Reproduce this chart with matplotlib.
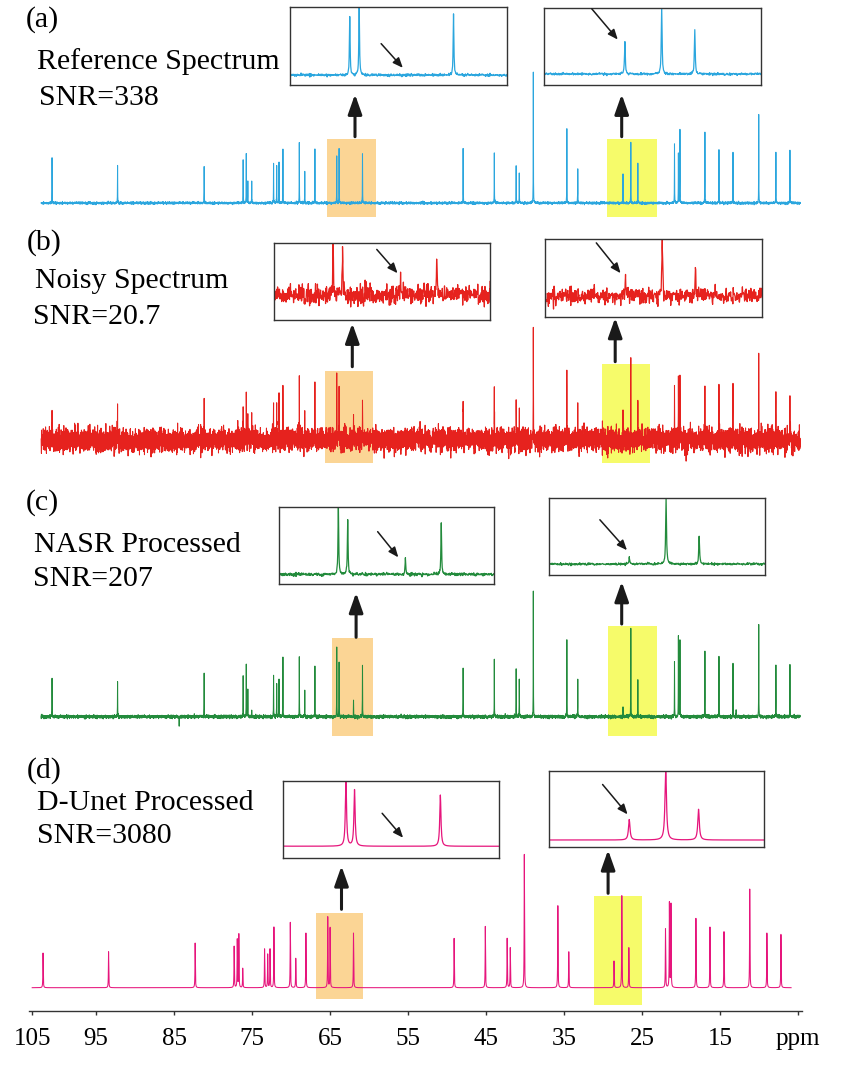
"""Four stacked 13C spectra (reference, noisy, NASR, D-Unet) with zoomed insets."""

import numpy as np
import matplotlib

matplotlib.use("Agg")
import matplotlib.pyplot as plt
from matplotlib.patches import Rectangle, FancyArrowPatch

W, H = 850, 1075
SERIF = ["Liberation Serif", "DejaVu Serif"]

# peak positions (ppm); 63.15 is the artefact the small arrows point at,
# 85.5 is the negative glitch in the NASR trace
PEAK_PPM = [101.8, 93.4, 82.3, 77.3, 76.9, 76.7, 76.2, 73.4, 73.0, 72.7,
            72.2, 70.1, 69.4, 68.1, 65.3, 65.0, 63.15, 62.0, 49.1, 45.1,
            42.3, 41.9, 40.1, 35.8, 34.4, 28.6, 27.6, 26.7, 22.0, 21.5,
            21.3, 18.1, 16.3, 14.5, 14.1, 11.2, 9.0, 7.2, 85.5]

# peak heights, relative to the tallest (40.1 ppm) line of each trace
H_REF = [.35, .29, .28, .33, .38, .16, .16, .30, .28, .31,
         .41, .45, .24, .41, .36, .41, 0, .38, .42, .38,
         .28, .23, 1, .56, .26, .22, .46, .30, .45, .38,
         .56, .54, .40, .38, 0, .67, .38, .40, 0]
H_NOISY = [.31, .27, .33, .33, .41, .25, .20, .33, .28, .32,
           .46, .48, .22, .40, .54, .42, .20, .39, .375, .44,
           .36, .25, 1, .60, .28, .22, .74, .30, .45, .55,
           .63, .50, .46, .41, 0, .73, .39, .40, 0]
H_NASR = [.31, .28, .34, .33, .41, .21, .05, .32, .27, .29,
          .47, .48, .21, .41, .55, .43, .13, .40, .385, .45,
          .37, .30, 1, .61, .29, .07, .70, .29, .43, .64,
          .61, .51, .48, .42, .05, .73, .41, .41, -.07]
H_DUNET = [.26, .27, .335, .31, .36, .40, .145, .29, .25, .29,
           .455, .49, .22, .41, .53, .45, 0, .41, .37, .46,
           .37, .30, 1, .615, .27, .20, .69, .30, .44, .635,
           .625, .52, .455, .42, 0, .74, .41, .40, 0]

PANEL_LABELS = ["(a)", "(b)", "(c)", "(d)"]
PANEL_TITLES = ["Reference Spectrum", "Noisy Spectrum", "NASR Processed", "D-Unet Processed"]
PANEL_SNR = ["SNR=338", "SNR=20.7", "SNR=207", "SNR=3080"]
COLORS = ["#2ba6de", "#e6221e", "#238b3c", "#e6157c"]

TICK_PPM = [103.2, 95, 85, 75, 65, 55, 45, 35, 25, 15, 5]
TICK_LABELS = ["105", "95", "85", "75", "65", "55", "45", "35", "25", "15", "ppm"]

ppm = np.union1d(np.arange(5.9, 103.2, 0.01), PEAK_PPM)[::-1]


def spectrum(heights, hwhm, noise_sd, seed):
    y = np.zeros_like(ppm)
    for p, h in zip(PEAK_PPM, heights):
        if h:
            y += h * hwhm ** 2 / ((ppm - p) ** 2 + hwhm ** 2)
    if noise_sd:
        # baseline noise texture only; the peak list above is the data
        y += np.random.default_rng(seed).normal(0, noise_sd, ppm.size)
    return y


def fig_box(l, t, r, b):
    return [l / W, 1 - b / H, (r - l) / W, (b - t) / H]


def fpt(x, y):
    return (x / W, 1 - y / H)


fig = plt.figure(figsize=(8.5, 10.75), dpi=100)

traces = [spectrum(H_REF, 0.013, 0.004, 1),
          spectrum(H_NOISY, 0.013, 0.05, 2),
          spectrum(H_NASR, 0.013, 0.006, 3),
          spectrum(H_DUNET, 0.025, 0.0, 4)]

# layout per panel: main axes left/right px, baseline px, px per unit, bottom px
MAIN = [(38, 811, 203.0, 131.0, 220),
        (38, 811, 440.0, 110.0, 466),
        (38, 811, 716.7, 125.7, 738),
        (29, 802, 987.7, 133.3, 1011)]
# highlighted regions (ppm left, ppm right, y low, y high)
ORANGE = [(66.56, 60.3, -0.109, 0.486), (66.77, 60.65, -0.212, 0.63),
          (65.94, 60.65, -0.154, 0.624), (66.8, 60.76, -0.087, 0.558)]
YELLOW = [(30.64, 24.23, -0.109, 0.486), (31.33, 25.08, -0.212, 0.69),
          (30.5, 24.24, -0.154, 0.724), (31.22, 24.96, -0.13, 0.688)]
# inset frames (px: left, top, right, bottom)
INSET_L = [(290, 7, 507, 85), (273.5, 243.3, 490, 320),
           (279.1, 506.7, 494.3, 584), (283, 781, 499, 857.7)]
INSET_R = [(544, 8, 761, 85), (544.7, 239, 761.5, 316.7),
           (548.5, 498.3, 765.3, 575), (549, 770.7, 764.2, 847.3)]
XLIM_L = [(67.2, 60.3), (67.2, 60.3), (67.2, 60.3), (67.5, 59.95)]
XLIM_R = [(30.8, 24.9)] * 4
YLIM_L = [(-0.061, 0.418), (-0.251, 0.521), (-0.077, 0.537), (-0.0915, 0.522)]
YLIM_R = [(-0.076, 0.453), (-0.26, 0.72), (-0.116, 0.696), (-0.071, 0.677)]
# small arrows inside insets (axes fraction: tail, head)
ARR_L = [((0.42, 0.53), (0.52, 0.22)), ((0.477, 0.92), (0.573, 0.61)),
         ((0.458, 0.677), (0.554, 0.345)), ((0.459, 0.579), (0.556, 0.26))]
ARR_R = [((0.22, 0.99), (0.34, 0.59)), ((0.238, 0.95), (0.35, 0.56)),
         ((0.237, 0.72), (0.362, 0.323)), ((0.249, 0.82), (0.365, 0.43))]
# big arrows from highlighted region up to inset (px: x, tail y, tip y)
BIG_L = [(355, 136.7, 94.3), (352.3, 366.7, 323.3), (356.1, 637.3, 592.7), (341.5, 909.3, 866)]
BIG_R = [(621.7, 136.7, 94.3), (615.2, 361.7, 317.7), (621.7, 624, 581.7), (608.1, 893.3, 850)]
# text positions (px: x, baseline y) for letter, title, SNR
TXT = [((26, 27), (37, 69), (39, 105)),
       ((27, 250), (35, 288), (33, 324)),
       ((26, 510), (34, 552), (33, 586)),
       ((27, 778), (37, 810), (37, 843))]

for i in range(4):
    left, right, base, unit, bottom = MAIN[i]
    top = base - 1.06 * unit
    ax = fig.add_axes(fig_box(left, top, right, bottom))
    ax.plot(ppm, traces[i], color=COLORS[i], lw=0.75, zorder=2)
    ax.set_xlim(103.6, 4.5)
    ax.set_ylim((base - bottom) / unit, (base - top) / unit)
    for (x0, x1, y0, y1), c in ((ORANGE[i], "#fbd595"), (YELLOW[i], "#f6fb6a")):
        ax.add_patch(Rectangle((x1, y0), x0 - x1, y1 - y0, color=c, lw=0, zorder=1))
    for s in ("top", "left", "right"):
        ax.spines[s].set_visible(False)
    ax.set_yticks([])
    if i < 3:
        ax.spines["bottom"].set_visible(False)
        ax.set_xticks([])
    else:
        ax.spines["bottom"].set_color("#333333")
        ax.spines["bottom"].set_linewidth(1.0)
        ax.set_xticks(TICK_PPM)
        ax.set_xticklabels(TICK_LABELS, family=SERIF, fontsize=18)
        ax.tick_params(axis="x", direction="out", length=3, width=1.0,
                       color="#333333", pad=9)

    for box, xl, yl, arr in ((INSET_L[i], XLIM_L[i], YLIM_L[i], ARR_L[i]),
                             (INSET_R[i], XLIM_R[i], YLIM_R[i], ARR_R[i])):
        ins = fig.add_axes(fig_box(*box))
        ins.plot(ppm, traces[i], color=COLORS[i], lw=0.9)
        ins.set_xlim(*xl)
        ins.set_ylim(*yl)
        ins.set_xticks([])
        ins.set_yticks([])
        for s in ins.spines.values():
            s.set_color("#333333")
            s.set_linewidth(1.0)
        ins.annotate("", xy=arr[1], xytext=arr[0], xycoords="axes fraction",
                     arrowprops=dict(arrowstyle="-|>,head_length=0.6,head_width=0.25",
                                     lw=1.1, color="#1a1a1a", shrinkA=0, shrinkB=0,
                                     mutation_scale=10))

    for x, y0, y1 in (BIG_L[i], BIG_R[i]):
        fig.add_artist(FancyArrowPatch(fpt(x, y0), fpt(x, y1), transform=fig.transFigure,
                                       arrowstyle="-|>,head_length=0.85,head_width=0.3",
                                       mutation_scale=14, lw=2.2, color="#1a1a1a",
                                       shrinkA=0, shrinkB=0))

    for (x, y), s in zip(TXT[i], (PANEL_LABELS[i], PANEL_TITLES[i], PANEL_SNR[i])):
        fig.text(*fpt(x, y), s, family=SERIF, fontsize=21.5, va="baseline", ha="left")

fig.savefig("out.png", dpi=100)
